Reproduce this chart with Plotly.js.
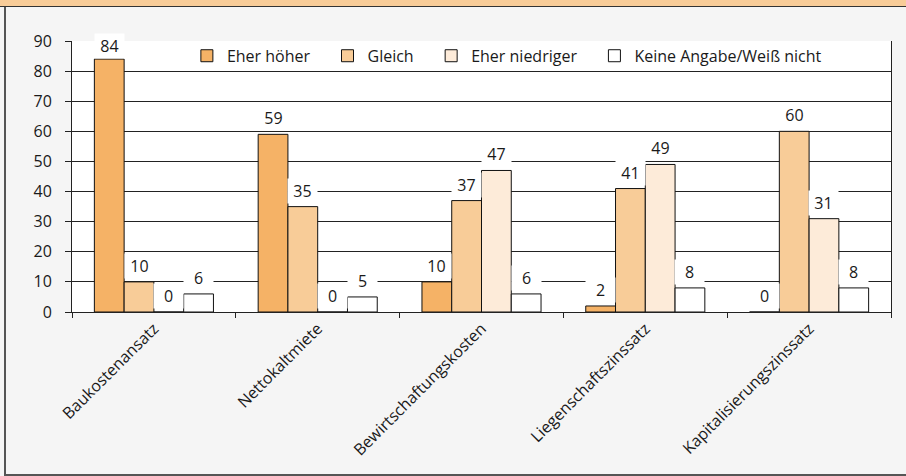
<!DOCTYPE html>
<html>
<head>
<meta charset="utf-8">
<script src="https://cdn.plot.ly/plotly-3.0.1.min.js"></script>
<style>
  html, body { margin: 0; padding: 0; background: #f5f5f5; }
  #wrap { position: relative; width: 906px; height: 476px; overflow: hidden; }
  #band { position: absolute; left: 0; top: 0; width: 906px; height: 6px;
          background: rgb(248,204,152); border-bottom: 1.5px solid #333; }
  #leftline { position: absolute; left: 4px; top: 7px; width: 1.5px; height: 468px; background: #555; }
  #bottomline { position: absolute; left: 4px; top: 474px; width: 902px; height: 1.5px; background: #555; }
  #chart { position: absolute; left: 0; top: 0; width: 906px; height: 476px; }
</style>
</head>
<body>
<div id="wrap">
  <div id="band"></div>
  <div id="chart"></div>
  <div id="leftline"></div>
  <div id="bottomline"></div>
</div>
<script>
// Categories and answer shares (percent)
const categories = ["Baukostenansatz", "Nettokaltmiete", "Bewirtschaftungskosten",
                    "Liegenschaftszinssatz", "Kapitalisierungszinssatz"];
const seriesNames = ["Eher höher", "Gleich", "Eher niedriger", "Keine Angabe/Weiß nicht"];
const eherHoeher    = [84, 59, 10, 2, 0];
const gleich        = [10, 35, 37, 41, 60];
const eherNiedriger = [0, 0, 47, 49, 31];
const keineAngabe   = [6, 5, 6, 8, 8];
const yTicks = [0, 10, 20, 30, 40, 50, 60, 70, 80, 90];

const seriesValues = [eherHoeher, gleich, eherNiedriger, keineAngabe];
const seriesColors = ["rgb(245,178,102)", "rgb(248,204,152)", "rgb(253,235,217)", "#ffffff"];

const FONT = "Open Sans, Lato, sans-serif";
const FS = 16;
const TXT = "#1a1a1a";
const W = 906, H = 476;
const margin = { l: 72, r: 15, t: 41, b: 164 };
const bargap = 0.273;
const yMax = 90;

// trailing non-breaking spaces widen the gap between legend entries
const pad = "\u00a0\u00a0\u00a0";

const traces = seriesValues.map((vals, i) => ({
  type: "bar",
  name: seriesNames[i] + (i < seriesNames.length - 1 ? pad : ""),
  x: categories,
  y: vals,
  marker: { color: seriesColors[i], line: { color: "#111", width: 1 } },
  hoverinfo: "skip"
}));

// Value labels above each bar, offset to the bar's slot within its group
const plotW = W - margin.l - margin.r;
const plotH = H - margin.t - margin.b;
const barW = plotW / categories.length * (1 - bargap) / seriesValues.length;
const annotations = [];
seriesValues.forEach((vals, i) => {
  vals.forEach((v, j) => {
    const roomAbove = (yMax - v) * plotH / yMax;   // px between bar top and plot top
    annotations.push({
      x: categories[j], y: v, xref: "x", yref: "y",
      text: String(v),
      showarrow: false,
      xanchor: "center", yanchor: "bottom",
      xshift: (i - (seriesValues.length - 1) / 2) * barW,
      yshift: Math.min(3, Math.max(0, roomAbove - 19)),
      bgcolor: "#ffffff",
      width: 27,
      font: { family: FONT, size: FS, color: TXT }
    });
  });
});

const layout = {
  width: W, height: H,
  margin: margin,
  paper_bgcolor: "rgba(0,0,0,0)",
  plot_bgcolor: "#ffffff",
  barmode: "group",
  bargap: bargap,
  bargroupgap: 0,
  font: { family: FONT, size: FS, color: TXT },
  showlegend: true,
  legend: {
    orientation: "h",
    x: 0.531, xanchor: "center",
    y: 1.008, yanchor: "top",
    bgcolor: "rgba(0,0,0,0)",
    font: { family: FONT, size: FS, color: TXT },
    traceorder: "normal"
  },
  xaxis: {
    type: "category",
    tickangle: -45,
    showline: true, linecolor: "#222", linewidth: 1,
    ticks: "outside", tickson: "boundaries", ticklen: 5, tickcolor: "#222",
    showgrid: false,
    tickfont: { family: FONT, size: FS, color: TXT }
  },
  yaxis: {
    range: [0, yMax],
    tickvals: yTicks,
    ticktext: yTicks.map(String),
    showline: true, mirror: true, linecolor: "#222", linewidth: 1,
    ticks: "outside", ticklen: 6, tickcolor: "#222",
    ticklabelstandoff: 10,
    showgrid: true, gridcolor: "#222", gridwidth: 1,
    zeroline: false,
    tickfont: { family: FONT, size: FS, color: TXT }
  },
  annotations: annotations
};

Plotly.newPlot("chart", traces, layout, { displayModeBar: false, staticPlot: true });
</script>
</body>
</html>
